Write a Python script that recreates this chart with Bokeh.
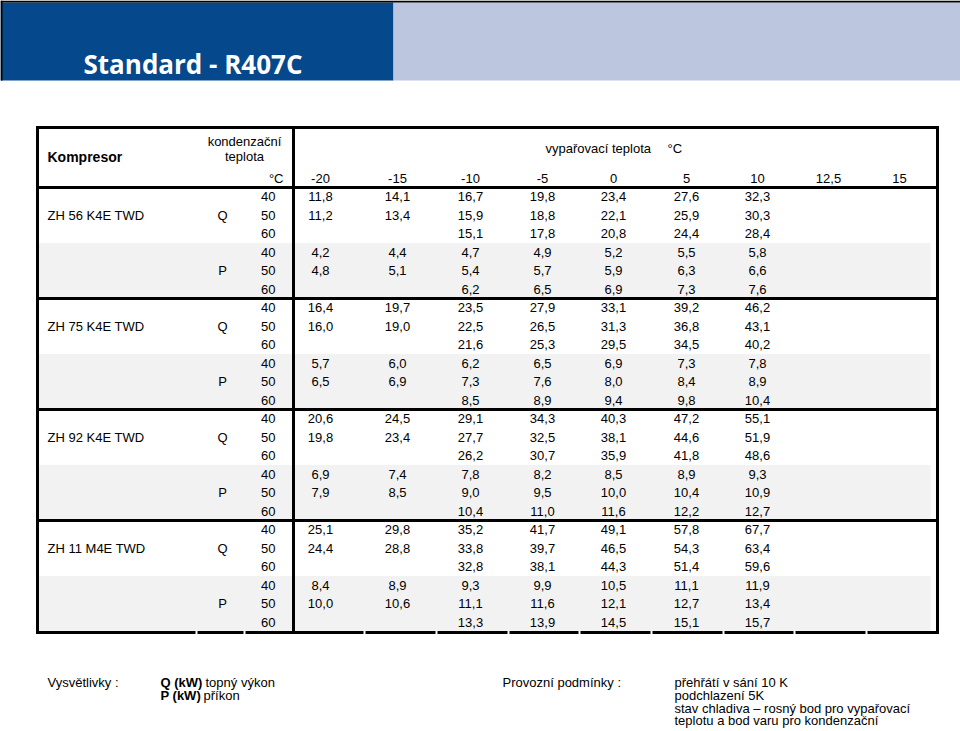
from bokeh.plotting import figure
from bokeh.models import Range1d
from bokeh.core.properties import value
from bokeh.embed import file_html
from bokeh.resources import INLINE

# ---------------- data ----------------
title = "Standard - R407C"
compressors = ["ZH 56 K4E TWD", "ZH 75 K4E TWD", "ZH 92 K4E TWD", "ZH 11 M4E TWD"]
evap_temps = ["-20", "-15", "-10", "-5", "0", "5", "10", "12,5", "15"]
cond_temps = ["40", "50", "60"]
quantities = ["Q", "P"]

zh56_q = [[11.8, 14.1, 16.7, 19.8, 23.4, 27.6, 32.3],
          [11.2, 13.4, 15.9, 18.8, 22.1, 25.9, 30.3],
          [None, None, 15.1, 17.8, 20.8, 24.4, 28.4]]
zh56_p = [[4.2, 4.4, 4.7, 4.9, 5.2, 5.5, 5.8],
          [4.8, 5.1, 5.4, 5.7, 5.9, 6.3, 6.6],
          [None, None, 6.2, 6.5, 6.9, 7.3, 7.6]]
zh75_q = [[16.4, 19.7, 23.5, 27.9, 33.1, 39.2, 46.2],
          [16.0, 19.0, 22.5, 26.5, 31.3, 36.8, 43.1],
          [None, None, 21.6, 25.3, 29.5, 34.5, 40.2]]
zh75_p = [[5.7, 6.0, 6.2, 6.5, 6.9, 7.3, 7.8],
          [6.5, 6.9, 7.3, 7.6, 8.0, 8.4, 8.9],
          [None, None, 8.5, 8.9, 9.4, 9.8, 10.4]]
zh92_q = [[20.6, 24.5, 29.1, 34.3, 40.3, 47.2, 55.1],
          [19.8, 23.4, 27.7, 32.5, 38.1, 44.6, 51.9],
          [None, None, 26.2, 30.7, 35.9, 41.8, 48.6]]
zh92_p = [[6.9, 7.4, 7.8, 8.2, 8.5, 8.9, 9.3],
          [7.9, 8.5, 9.0, 9.5, 10.0, 10.4, 10.9],
          [None, None, 10.4, 11.0, 11.6, 12.2, 12.7]]
zh11_q = [[25.1, 29.8, 35.2, 41.7, 49.1, 57.8, 67.7],
          [24.4, 28.8, 33.8, 39.7, 46.5, 54.3, 63.4],
          [None, None, 32.8, 38.1, 44.3, 51.4, 59.6]]
zh11_p = [[8.4, 8.9, 9.3, 9.9, 10.5, 11.1, 11.9],
          [10.0, 10.6, 11.1, 11.6, 12.1, 12.7, 13.4],
          [None, None, 13.3, 13.9, 14.5, 15.1, 15.7]]
tables = [(zh56_q, zh56_p), (zh75_q, zh75_p), (zh92_q, zh92_p), (zh11_q, zh11_p)]

header_left = "Kompresor"
header_cond = ["kondenzační", "teplota"]
header_evap = "vypařovací teplota"
unit = "°C"
legend_label = "Vysvětlivky :"
legend_bold = ["Q (kW)", "P (kW)"]
legend_text = ["topný výkon", "příkon"]
cond_label = "Provozní podmínky :"
cond_lines = ["přehřátí v sání 10 K", "podchlazení 5K",
              "stav chladiva – rosný bod pro vypařovací",
              "teplotu a bod varu pro kondenzační"]

# ---------------- layout ----------------
FONT = value("Liberation Sans")
DARK = "#05488b"
LIGHT = "#bcc6df"
GREY = "#f2f2f2"

X_L, X_R = 37, 937
Y_T, Y_HDR, Y_B = 127, 187, 632
X_V = 293
row_h = 18.5
group_h = 6 * row_h
col_x = [320, 397, 470, 542, 613, 686, 757, 828, 899]
col_bounds = [196, 244, 293, 364, 436, 508, 579, 651, 723, 794, 866]

p = figure(width=960, height=731, x_range=Range1d(0, 960), y_range=Range1d(731, 0),
           output_backend="svg", toolbar_location=None, min_border=0)
p.axis.visible = False
p.grid.visible = False
p.outline_line_color = None
p.background_fill_color = "white"
p.border_fill_color = "white"

# header bands
p.quad(left=[0, 393], right=[393, 960], top=[2, 2], bottom=[80, 80],
       fill_color=[DARK, LIGHT], line_color=None)
p.segment(x0=[0, 1], y0=[1, 0], x1=[960, 1], y1=[1, 80], line_color="black", line_width=2)
p.text(x=[83], y=[63], text=[title], text_font=value("Open Sans"), text_font_size="26px",
       text_font_style="bold", text_color="white", text_align="left", text_baseline="alphabetic")

# grey P bands
gl, gr, gt, gb = [], [], [], []
for g in range(len(compressors)):
    top = Y_HDR + g * group_h + 3 * row_h
    gl.append(X_L + 1); gr.append(930); gt.append(top); gb.append(top + 3 * row_h)
p.quad(left=gl, right=gr, top=gt, bottom=gb, fill_color=GREY, line_color=None)

# texts
def txt(xs, ys, ts, align="center", size="13px", style="normal", baseline="middle"):
    p.text(x=xs, y=ys, text=ts, text_font=FONT, text_font_size=size, text_font_style=style,
           text_color="black", text_align=align, text_baseline=baseline)

txt([47], [156], [header_left], align="left", size="14px", style="bold")
txt([244, 244], [141, 156], header_cond)
txt([545], [148], [header_evap], align="left")
txt([667], [148], [unit], align="left")
txt([283], [178], [unit], align="right")
txt(col_x, [178] * len(col_x), evap_temps)

cx, cy, ct = [], [], []
lx, ly, lt = [], [], []
qx, qy, qt_ = [], [], []
nx, ny, nt = [], [], []
for g, (qv, pv) in enumerate(tables):
    gtop = Y_HDR + g * group_h
    lx.append(47); ly.append(gtop + 1.5 * row_h); lt.append(compressors[g])
    for k, (q, vals) in enumerate(zip(quantities, (qv, pv))):
        top = gtop + k * 3 * row_h
        qx.append(222); qy.append(top + row_h * 1.5); qt_.append(q)
        for r, row in enumerate(vals):
            yc = top + row_h * (r + 0.5)
            nx.append(275); ny.append(yc); nt.append(cond_temps[r])
            for c, v in enumerate(row):
                if v is None:
                    continue
                cx.append(col_x[c]); cy.append(yc); ct.append(f"{v:.1f}".replace(".", ","))
txt(lx, ly, lt, align="left")
txt(qx, qy, qt_)
txt(nx, ny, nt, align="right")
txt(cx, cy, ct)

# lines
LW = 3
hy = [Y_T, Y_HDR] + [Y_HDR + g * group_h for g in range(1, len(compressors))]
p.segment(x0=[X_L] * len(hy), y0=hy, x1=[X_R] * len(hy), y1=hy, line_color="black", line_width=LW)
p.segment(x0=[X_L, X_R, X_V], y0=[Y_T - 1.5] * 3, x1=[X_L, X_R, X_V], y1=[Y_B + 1.5] * 3,
          line_color="black", line_width=LW)
bx = [X_L] + col_bounds + [X_R]
bx0 = [bx[i] + (1 if i > 0 else -1.5) for i in range(len(bx) - 1)]
bx1 = [bx[i + 1] - (1 if i + 1 < len(bx) - 1 else -1.5) for i in range(len(bx) - 1)]
p.segment(x0=bx0, y0=[Y_B] * len(bx0), x1=bx1, y1=[Y_B] * len(bx0), line_color="black", line_width=LW)

# footer
txt([47], [682], [legend_label], align="left", baseline="alphabetic")
txt([160, 160], [682, 695], legend_bold, align="left", style="bold", baseline="alphabetic")
txt([205, 203], [682, 695], legend_text, align="left", baseline="alphabetic")
txt([502], [682], [cond_label], align="left", baseline="alphabetic")
txt([674] * 4, [682, 695, 708, 720], cond_lines, align="left", baseline="alphabetic")

open("out.html", "w").write(file_html(p, INLINE))
